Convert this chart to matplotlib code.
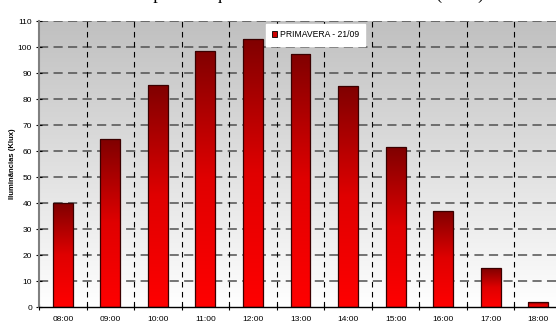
import numpy as np
import matplotlib
matplotlib.use("Agg")
import matplotlib.pyplot as plt
from matplotlib.colors import LinearSegmentedColormap
from matplotlib.patches import Patch

# Hourly illuminance, spring (21/09)
hours = ["08:00", "09:00", "10:00", "11:00", "12:00", "13:00",
         "14:00", "15:00", "16:00", "17:00", "18:00"]
illuminance = [40, 64.5, 85.5, 98.5, 103, 97.5, 85, 61.5, 37, 15, 1.8]
series_name = "PRIMAVERA - 21/09"
y_ticks = list(range(0, 111, 10))
title_text = "Iluminâncias para o Equinócio de Primavera - 21/09 (Klux)"

plt.rcParams["font.family"] = ["Liberation Sans", "DejaVu Sans"]

fig = plt.figure(figsize=(5.56, 3.26), dpi=100)
fig.patch.set_facecolor("white")
ax = fig.add_axes([39 / 556, 19 / 326, 523 / 556, 286 / 326])

n = len(hours)
x = np.arange(n)

# plot-area background: grey at top fading to white
bg = np.linspace(0, 1, 256).reshape(-1, 1)
bg_cmap = LinearSegmentedColormap.from_list("bg", ["#ffffff", "#c0c0c0"])
ax.imshow(bg, cmap=bg_cmap, aspect="auto", extent=[0, 1, 0, 1],
          transform=ax.transAxes, origin="lower", zorder=0)

# dashed grid
for yv in y_ticks[1:]:
    ax.axhline(yv, color="#505050", lw=1.1, dashes=(6, 3.5), zorder=1)
for xb in np.arange(0.5, n - 0.5 + 1e-9, 1.0):
    ax.axvline(xb, color="#000000", lw=0.8, dashes=(5, 4), zorder=1)

# bars with vertical red gradient
bar_cmap = LinearSegmentedColormap.from_list("bar", ["#ff0000", "#e00000", "#800000"])
grad = np.linspace(0, 1, 256).reshape(-1, 1)
width = 0.42
bars = ax.bar(x, illuminance, width=width, facecolor="none",
              edgecolor="#3a0000", linewidth=0.9, zorder=4)
for rect in bars:
    x0, h = rect.get_x(), rect.get_height()
    im = ax.imshow(grad, cmap=bar_cmap, aspect="auto", origin="lower",
                   extent=[x0, x0 + width, 0, h], zorder=3)
    im.set_clip_path(rect)
ax.set_xlim(-0.5, n - 0.5)
ax.set_ylim(0, 110)

# axes styling
for s in ("top", "right"):
    ax.spines[s].set_visible(False)
ax.spines["left"].set_color("#808080")
ax.spines["left"].set_linewidth(1.5)
ax.spines["bottom"].set_color("#000000")
ax.spines["bottom"].set_linewidth(1.0)
ax.spines["left"].set_zorder(5)
ax.spines["bottom"].set_zorder(5)

ax.set_yticks(y_ticks)
ax.tick_params(axis="y", direction="inout", length=5, width=0.8,
               color="#000000", labelsize=6, pad=2.5, labelcolor="#000000")
ax.set_xticks(x)
ax.set_xticklabels(hours)
ax.set_xticks(np.arange(-0.5, n - 0.5 + 1e-9, 1.0), minor=True)
ax.tick_params(axis="x", which="major", length=0, labelsize=6, pad=6.5)
ax.tick_params(axis="x", which="minor", direction="inout", length=5,
               width=0.8, color="#000000")

ax.set_ylabel("Iluminâncias (Klux)", fontsize=5.5, fontweight="bold", labelpad=1)

# legend
handle = Patch(facecolor="#cc0000", edgecolor="#000000", linewidth=0.6)
leg = ax.legend([handle], [series_name], loc="upper left",
                bbox_to_anchor=(0.434, 0.99), fontsize=6.2,
                frameon=True, fancybox=False, framealpha=1,
                handlelength=0.55, handleheight=0.75, handletextpad=0.3,
                borderpad=0.75, borderaxespad=0)
leg.get_frame().set_edgecolor("white")
leg.get_frame().set_facecolor("white")
leg.set_zorder(6)

# title (sits at the very top edge of the figure)
fig.text(0.485, 1.003, title_text, ha="center", va="baseline",
         fontsize=13, family=["Liberation Serif", "DejaVu Serif"])

fig.savefig("out.png", dpi=100, facecolor="white")
